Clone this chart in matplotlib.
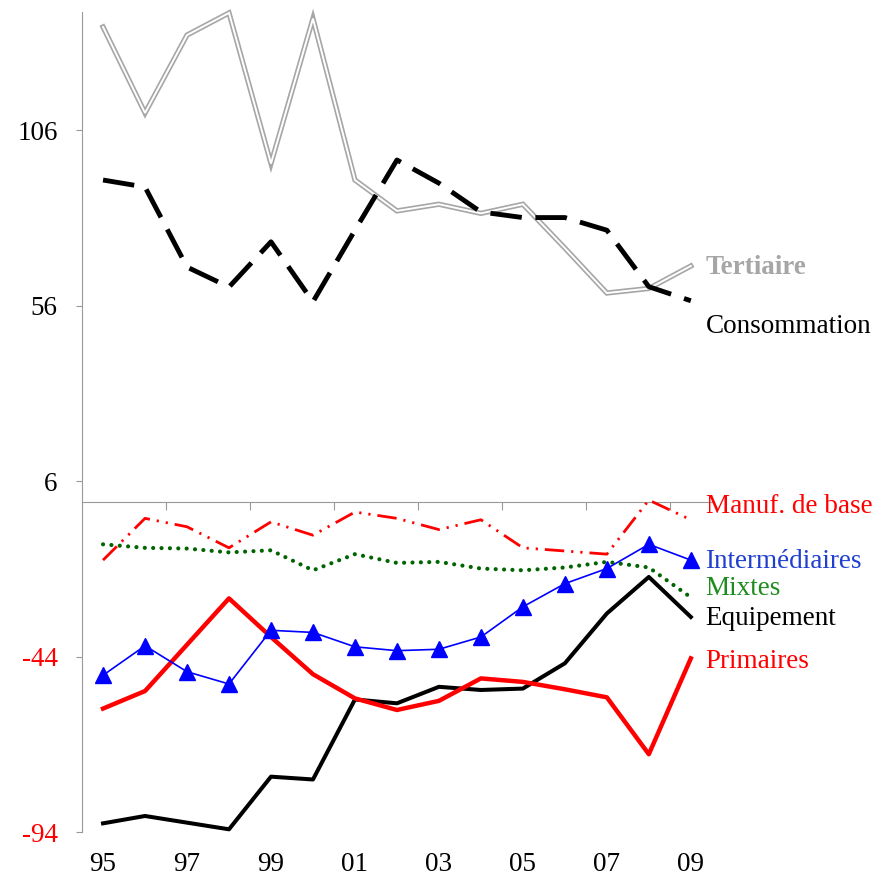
import matplotlib
matplotlib.use('Agg')
import matplotlib.pyplot as plt

plt.rcParams.update({
    'font.family': 'Liberation Serif',
    'font.size': 19.5,
    'axes.unicode_minus': False,
})

years = [95, 96, 97, 98, 99, 100, 101, 102, 103, 104, 105, 106, 107, 108, 109]
year_labels = ['95', '97', '99', '01', '03', '05', '07', '09']

tertiaire = [135.4, 110.9, 133.1, 139.4, 96.5, 137.8, 91.8, 83.0, 84.9, 82.3, 84.9, 72.4, 59.6, 60.9, 67.3]
consommation = [91.8, 89.8, 67.0, 61.3, 74.2, 57.1, 77.5, 97.5, 90.9, 82.7, 81.1, 81.1, 77.5, 61.4, 57.4]
manuf_base = [-16.5, -4.6, -7.0, -13.0, -5.6, -9.4, -2.8, -4.6, -7.8, -5.0, -13.0, -13.9, -14.8, 0.6, -5.0]
mixtes = [-12.0, -13.0, -13.2, -14.3, -13.7, -19.4, -14.8, -17.3, -17.0, -18.9, -19.4, -18.6, -17.0, -18.6, -27.1]
intermediaires = [-49.3, -40.9, -48.3, -51.8, -36.5, -37.1, -41.2, -42.3, -41.9, -38.4, -29.8, -23.2, -18.9, -12.0, -16.5]
equipement = [-91.5, -89.4, -91.3, -93.2, -78.2, -79.0, -56.2, -57.3, -52.6, -53.5, -53.1, -45.9, -31.7, -21.3, -32.7]
primaires = [-58.8, -53.8, -40.6, -27.4, -38.4, -49.0, -55.9, -59.2, -56.6, -50.2, -51.2, -53.3, -55.6, -71.8, -44.5]

yticks = [-94, -44, 6, 56, 106]
ytick_colors = ['red', 'red', 'black', 'black', 'black']

fig = plt.figure(figsize=(8.87, 8.75), dpi=100)
ax = fig.add_axes([0.0925, 0.049, 0.710, 0.937])

# tertiaire: double gray line
ax.plot(years, tertiaire, color='#a6a6a6', lw=3.8, solid_joinstyle='miter', zorder=3, clip_on=False)
ax.plot(years, tertiaire, color='white', lw=1.4, solid_joinstyle='miter', zorder=3, clip_on=False)
ax.plot(years, consommation, color='black', lw=3.5, dashes=(6.5, 2.8), zorder=4)

ax.plot(years, manuf_base, color='red', lw=2, dashes=(7, 2.5, 0.8, 2.5, 0.8, 2.5), zorder=3)
ax.plot(years, mixtes, color='#006400', lw=3.0, dashes=(0.01, 2.0),
        dash_capstyle='round', zorder=3)
ax.plot(years, intermediaires, color='blue', lw=1.2, marker='^', markersize=11, zorder=4)
ax.plot(years, equipement, color='black', lw=2.9, zorder=3)
ax.plot(years, primaires, color='red', lw=3.2, zorder=3)

# series labels
lx = 109.35
ax.text(lx, 67.0, 'Tertiaire', color='#a6a6a6', fontweight='bold', va='center')
ax.text(lx, 50.0, 'Consommation', color='black', va='center')
ax.text(lx, -1.1, 'Manuf. de base', color='red', va='center')
ax.text(lx, -16.8, 'Intermédiaires', color='#1f3fd0', va='center')
ax.text(lx, -24.5, 'Mixtes', color='#1e8c1e', va='center')
ax.text(lx, -33.0, 'Equipement', color='black', va='center')
ax.text(lx, -45.3, 'Primaires', color='red', va='center')

ax.set_xlim(94.5, 109.5)
ax.set_ylim(-94, 139.6)

for s in ['top', 'right']:
    ax.spines[s].set_visible(False)
ax.spines['left'].set_color('#999999')
ax.spines['bottom'].set_position(('data', 0))
ax.spines['bottom'].set_color('#999999')

# axis line at 0 with tick marks between category pairs
ax.set_xticks([96.5, 98.5, 100.5, 102.5, 104.5, 106.5, 108.5])
ax.tick_params(axis='x', direction='out', length=6, color='#999999', labelbottom=False)

ax.set_yticks(yticks)
ax.tick_params(axis='y', direction='out', length=4.5, color='#999999', pad=13)
for lab, c in zip(ax.get_yticklabels(), ytick_colors):
    lab.set_color(c)

sec = ax.secondary_xaxis(0.0)
sec.set_xticks(years[::2], year_labels)
sec.tick_params(length=0, pad=14)
sec.spines['bottom'].set_visible(False)

fig.savefig('out.png', dpi=100)
